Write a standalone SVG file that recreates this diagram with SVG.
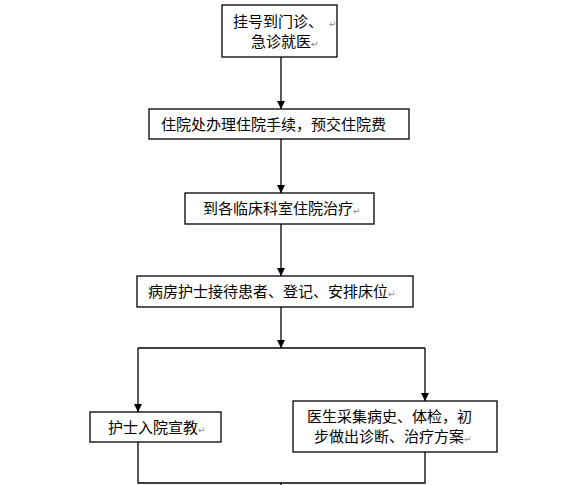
<svg xmlns="http://www.w3.org/2000/svg" width="562" height="485" viewBox="0 0 562 485">
<style>
.box{fill:#fff;stroke:#000;stroke-width:1.3}
.t{font-family:"Noto Sans CJK SC","Liberation Sans",sans-serif;font-size:15px;fill:#000}
.pm{font-family:"DejaVu Sans",sans-serif;font-size:9px;fill:#888}
.ln{fill:none;stroke:#000;stroke-width:1.3}
</style>
<defs>
<marker id="a" markerUnits="userSpaceOnUse" markerWidth="8" markerHeight="8" refX="8" refY="4" orient="auto" viewBox="0 0 8 8">
<path d="M0,0 L8,4 L0,8 Z" fill="#000"/>
</marker>
</defs>
<rect width="562" height="485" fill="#fff"/>
<g id="connectors">
<line class="ln" x1="281" y1="57" x2="281" y2="109" marker-end="url(#a)"/>
<line class="ln" x1="281" y1="139" x2="281" y2="193" marker-end="url(#a)"/>
<line class="ln" x1="281" y1="224" x2="281" y2="276" marker-end="url(#a)"/>
<line class="ln" x1="281" y1="307" x2="281" y2="348" marker-end="url(#a)"/>
<line class="ln" x1="138" y1="348" x2="425" y2="348"/>
<line class="ln" x1="138" y1="348" x2="138" y2="412" marker-end="url(#a)"/>
<line class="ln" x1="425" y1="348" x2="425" y2="401" marker-end="url(#a)"/>
<polyline class="ln" points="138,442 138,483 425,483 425,452"/>
<line class="ln" x1="281" y1="483" x2="281" y2="486"/>
</g>
<g id="n1">
<rect class="box" x="222" y="5" width="115" height="52"/>
<text class="t" x="233" y="27">挂号到门诊、<tspan class="pm" dx="6">↵</tspan></text>
<text class="t" x="251" y="47">急诊就医<tspan class="pm">↵</tspan></text>
</g>
<g id="n2">
<rect class="box" x="149" y="109" width="260" height="30"/>
<text class="t" x="161" y="130">住院处办理住院手续，预交住院费</text>
</g>
<g id="n3">
<rect class="box" x="185" y="193" width="189" height="31"/>
<text class="t" x="203" y="214">到各临床科室住院治疗<tspan class="pm">↵</tspan></text>
</g>
<g id="n4">
<rect class="box" x="137" y="276" width="276" height="31"/>
<text class="t" x="148" y="297">病房护士接待患者、登记、安排床位<tspan class="pm">↵</tspan></text>
</g>
<g id="n5">
<rect class="box" x="90" y="412" width="131" height="30"/>
<text class="t" x="108" y="433">护士入院宣教<tspan class="pm">↵</tspan></text>
</g>
<g id="n6">
<rect class="box" x="293" y="401" width="204" height="51"/>
<text class="t" x="307" y="422">医生采集病史、体检，初</text>
<text class="t" x="314" y="442">步做出诊断、治疗方案<tspan class="pm">↵</tspan></text>
</g>
</svg>
